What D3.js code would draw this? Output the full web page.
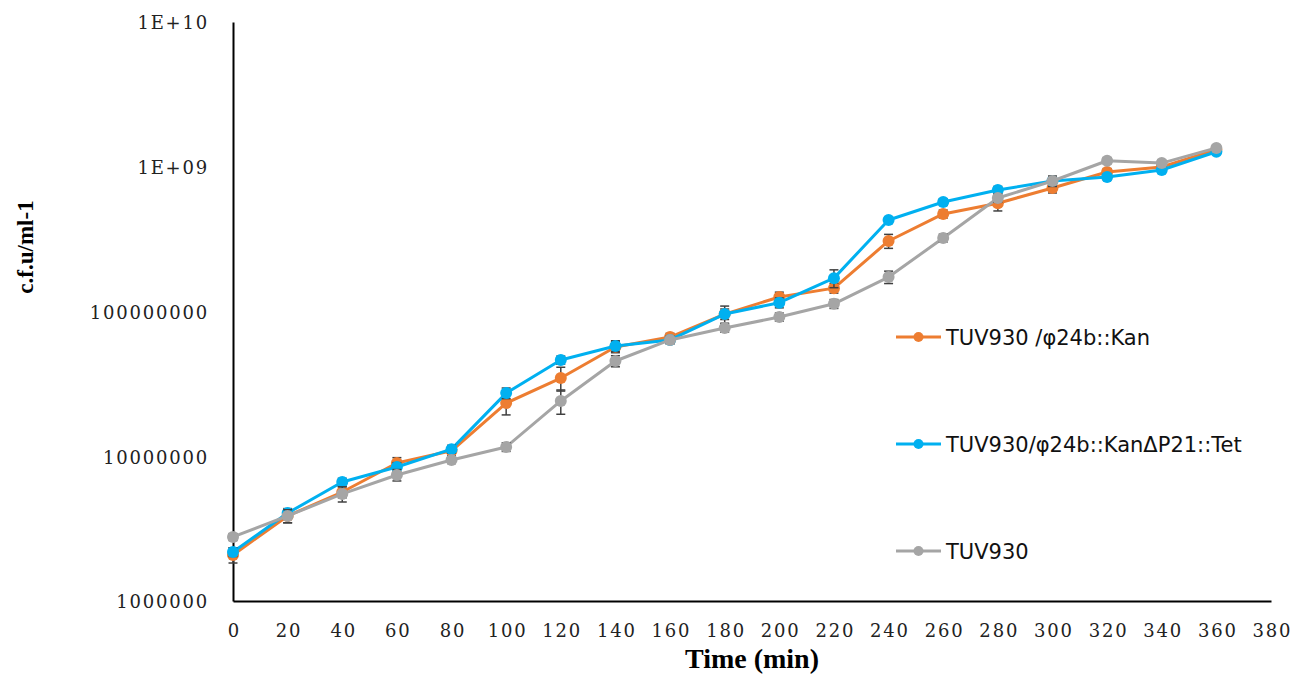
<!DOCTYPE html>
<html>
<head>
<meta charset="utf-8">
<script src="https://cdn.jsdelivr.net/npm/d3@7"></script>
<style>
  body { margin: 0; background: #fff; }
  svg { display: block; }
</style>
</head>
<body>
<svg id="chart" width="1296" height="677"></svg>
<script>
// time points (min)
const times = [0, 20, 40, 60, 80, 100, 120, 140, 160, 180, 200, 220, 240, 260, 280, 300, 320, 340, 360]

const kanValues = [2.08e6, 3.87e6, 5.66e6, 8.98e6, 1.09e7, 2.33e7, 3.47e7, 5.69e7, 6.66e7, 9.6e7, 1.26e8, 1.45e8, 3.07e8, 4.72e8, 5.6e8, 7.13e8, 9.2e8, 9.96e8, 1.31e9]
const kanErrors = [2.5e5, 4e5, 5e5, 8e5, 8e5, 4e6, 6.5e6, 5e6, 4e6, 8e6, 1e7, 1.1e7, 3.4e7, 3e7, 6.5e7, 5.4e7, 5e7, 5e7, 6e7]

const tetValues = [2.18e6, 4.05e6, 6.64e6, 8.43e6, 1.12e7, 2.73e7, 4.62e7, 5.78e7, 6.36e7, 9.6e7, 1.15e8, 1.7e8, 4.29e8, 5.71e8, 6.91e8, 7.97e8, 8.5e8, 9.5e8, 1.27e9]
const tetErrors = [1.5e5, 3e5, 4e5, 6e5, 7e5, 2.3e6, 3e6, 5e6, 4e6, 1.3e7, 9e6, 2.4e7, 2e7, 3e7, 4e7, 5e7, 4e7, 4e7, 5e7]

const wtValues = [2.77e6, 3.87e6, 5.49e6, 7.42e6, 9.42e6, 1.16e7, 2.41e7, 4.55e7, 6.36e7, 7.69e7, 9.16e7, 1.13e8, 1.73e8, 3.22e8, 6.08e8, 7.97e8, 1.1e9, 1.06e9, 1.35e9]
const wtErrors = [1.5e5, 4e5, 6.6e5, 6.7e5, 5e5, 8e5, 4.6e6, 4e6, 3e6, 5e6, 6e6, 8e6, 1.7e7, 2e7, 4e7, 6.6e7, 5e7, 5e7, 6e7]

const seriesNames = ['TUV930 /φ24b::Kan', 'TUV930/φ24b::KanΔP21::Tet', 'TUV930']
const seriesColors = ['#ED7D31', '#00B0F0', '#A5A5A5']

const xTicks = [0, 20, 40, 60, 80, 100, 120, 140, 160, 180, 200, 220, 240, 260, 280, 300, 320, 340, 360, 380]
const yTicks = [1e6, 1e7, 1e8, 1e9, 1e10]
const yTickLabels = ['1000000', '10000000', '100000000', '1E+09', '1E+10']

const series = [
    { name: seriesNames[0], color: seriesColors[0], values: kanValues, errors: kanErrors },
    { name: seriesNames[1], color: seriesColors[1], values: tetValues, errors: tetErrors },
    { name: seriesNames[2], color: seriesColors[2], values: wtValues, errors: wtErrors }
]

const svg = d3.select('#chart')

const xScale = d3.scaleLinear()
    .domain([0, 380])
    .range([233, 1271])
const yScale = d3.scaleLog()
    .domain([1e6, 1e10])
    .range([601, 22])

// axes - Excel style, no tick marks
const xAxis = d3.axisBottom(xScale)
    .tickValues(xTicks)
    .tickSize(0)
    .tickSizeOuter(0)
    .tickPadding(0)
const yAxis = d3.axisLeft(yScale)
    .tickValues(yTicks)
    .tickFormat((d, i) => yTickLabels[i])
    .tickSize(0)
    .tickSizeOuter(0)
    .tickPadding(24)

const tickFont = '"DejaVu Serif", serif'

const gx = svg.append('g')
    .attr('transform', 'translate(0, 601)')
    .call(xAxis)
gx.select('.domain').attr('stroke', '#000').attr('stroke-width', 2)
gx.selectAll('text')
    .attr('x', 0.9)
    .attr('y', 36)
    .attr('dy', 0)
    .attr('fill', '#222')
    .style('font-family', tickFont)
    .style('font-size', '18px')
    .style('letter-spacing', '1.8px')

const gy = svg.append('g')
    .attr('transform', 'translate(233, 0)')
    .call(yAxis)
gy.select('.domain').attr('stroke', '#000').attr('stroke-width', 2)
gy.selectAll('text')
    .attr('fill', '#222')
    .attr('dy', '0.38em')
    .style('font-family', tickFont)
    .style('font-size', '18px')
    .style('letter-spacing', '1.8px')

// axis titles
svg.append('text')
    .attr('x', 752)
    .attr('y', 668)
    .attr('text-anchor', 'middle')
    .style('font-family', '"Liberation Serif", serif')
    .style('font-weight', 'bold')
    .style('font-size', '28px')
    .text('Time (min)')
svg.append('text')
    .attr('transform', 'translate(33, 247) rotate(-90)')
    .attr('text-anchor', 'middle')
    .style('font-family', '"Liberation Serif", serif')
    .style('font-weight', 'bold')
    .style('font-size', '23px')
    .text('c.f.u/ml-1')

const line = d3.line()
    .x((d, i) => xScale(times[i]))
    .y(d => yScale(d))

series.forEach(s => {
    svg.append('path')
        .datum(s.values)
        .attr('d', line)
        .attr('fill', 'none')
        .attr('stroke', s.color)
        .attr('stroke-width', 3)
        .attr('stroke-linejoin', 'round')

    // error bars
    const eb = svg.append('g')
        .attr('stroke', '#404040')
        .attr('stroke-width', 1.5)
    s.values.forEach((v, i) => {
        const x = xScale(times[i])
        const y1 = yScale(v + s.errors[i])
        const y2 = yScale(Math.max(v - s.errors[i], 1))
        eb.append('line').attr('x1', x).attr('x2', x).attr('y1', y1).attr('y2', y2)
        eb.append('line').attr('x1', x - 4.5).attr('x2', x + 4.5).attr('y1', y1).attr('y2', y1)
        eb.append('line').attr('x1', x - 4.5).attr('x2', x + 4.5).attr('y1', y2).attr('y2', y2)
    })

    svg.append('g')
        .selectAll('circle')
        .data(s.values)
        .enter()
        .append('circle')
        .attr('cx', (d, i) => xScale(times[i]))
        .attr('cy', d => yScale(d))
        .attr('r', 6)
        .attr('fill', s.color)
})

// legend
const legendY = [337, 444, 551]
series.forEach((s, i) => {
    const g = svg.append('g').attr('transform', `translate(896, ${legendY[i]})`)
    g.append('line')
        .attr('x1', 0).attr('x2', 45)
        .attr('stroke', s.color)
        .attr('stroke-width', 3)
    g.append('circle')
        .attr('cx', 22.5)
        .attr('r', 5)
        .attr('fill', s.color)
    g.append('text')
        .attr('x', 50)
        .attr('dy', '0.36em')
        .attr('fill', '#111')
        .style('font-family', '"DejaVu Sans", sans-serif')
        .style('font-size', '21px')
        .text(s.name)
})
</script>
</body>
</html>
